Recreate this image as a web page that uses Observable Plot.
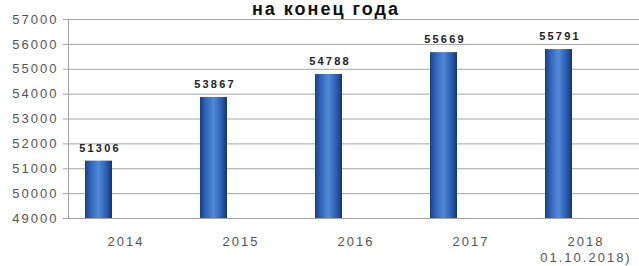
<!DOCTYPE html>
<html><head><meta charset="utf-8">
<script src="https://cdn.jsdelivr.net/npm/d3@7"></script>
<script src="https://cdn.jsdelivr.net/npm/@observablehq/plot@0.6"></script>
<style>
body{margin:0;background:#fff;} svg{display:block;}
g[aria-label="y-axis tick label"] text, g[aria-label="x-axis tick label"] text {letter-spacing:2px;}
g.vals text {letter-spacing:2.2px;}
g.ttl text {letter-spacing:2px;}
</style>
</head><body><div id="chart"></div>
<script>
const categories = ["2014", "2015", "2016", "2017", "2018\n01.10.2018)"];
const values = [51306, 53867, 54788, 55669, 55791];
const yTicks = [49000, 50000, 51000, 52000, 53000, 54000, 55000, 56000, 57000];
const title = "на конец года";

const data = categories.map((c, i) => ({cat: c, value: values[i]}));

const plot = Plot.plot({
  width: 639, height: 266,
  marginLeft: 68, marginRight: 0, marginTop: 19, marginBottom: 48,
  style: {fontFamily: "Liberation Sans, Arial, sans-serif", fontSize: "13px", color: "#333", background: "#fff"},
  x: {domain: categories, range: [68, 643], padding: 0, label: null},
  y: {domain: [49000, 57000], label: null},
  marks: [
    Plot.gridY(yTicks, {stroke: "#a4a4a4", strokeOpacity: 1}),
    Plot.axisY(yTicks, {tickSize: 5, tickPadding: 5, tickFormat: d => String(d), stroke: "#a4a4a4", fill: "#555", fontSize: 13}),
    Plot.axisX({tickSize: 0, tickPadding: 15, fill: "#555", fontSize: 13, lineHeight: 1.3}),
    Plot.ruleX([0], {x: () => categories[0], stroke: "#a4a4a4", dx: -57.5}),
    Plot.ruleY([49000], {stroke: "#a4a4a4"}),
    Plot.barY(data, {x: "cat", y1: 49000, y2: "value", fill: "url(#barGrad)", insetLeft: 44, insetRight: 44, dx: -27}),
    Plot.text(data, {x: "cat", y: "value", text: d => String(d.value), dx: -26, dy: -13, fontWeight: "bold", fontSize: 11, fill: "#222", className: "vals"}),
    Plot.text([title], {frameAnchor: "top", text: d => d, dx: -28, dy: -17, fontWeight: "bold", fontSize: 18, fill: "#111", className: "ttl"})
  ]
});

const ns = "http://www.w3.org/2000/svg";
const defs = document.createElementNS(ns, "defs");
defs.innerHTML = `<linearGradient id="barGrad" x1="0" x2="1" y1="0" y2="0">
  <stop offset="0" stop-color="#1b3f86"/>
  <stop offset="0.2" stop-color="#2f63b8"/>
  <stop offset="0.5" stop-color="#4f8ad6"/>
  <stop offset="0.8" stop-color="#2a5cb0"/>
  <stop offset="1" stop-color="#163670"/>
</linearGradient>`;
plot.insertBefore(defs, plot.firstChild);
document.getElementById("chart").appendChild(plot);
</script>
</body></html>
